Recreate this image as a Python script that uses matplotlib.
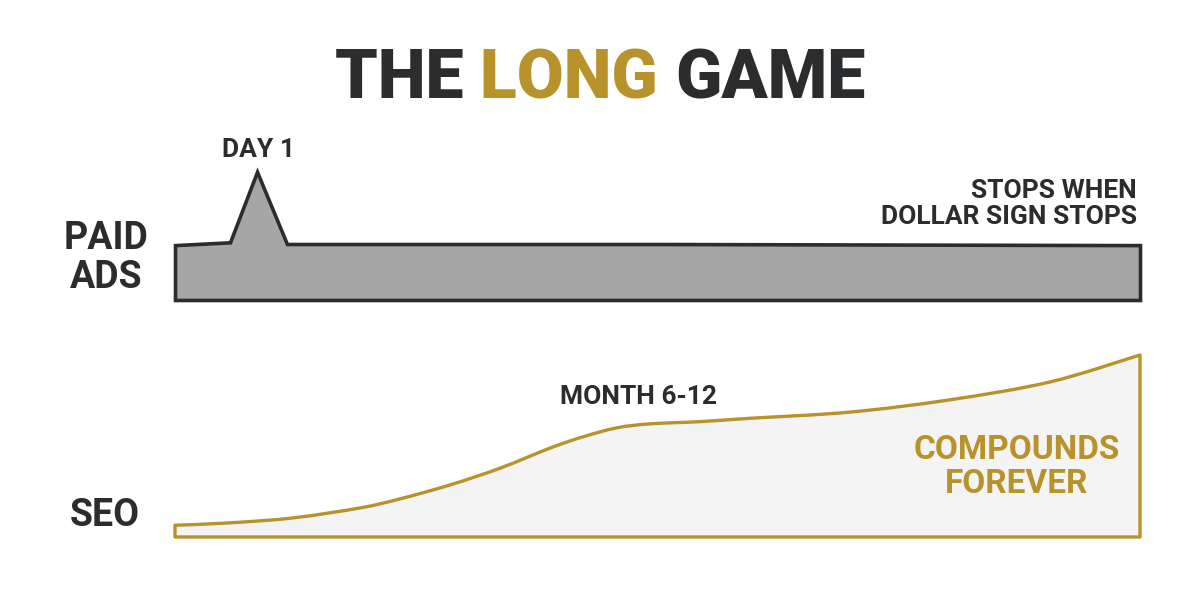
import matplotlib.pyplot as plt
from matplotlib.path import Path
from matplotlib.patches import PathPatch

plt.rcParams["font.family"] = ["Roboto", "DejaVu Sans"]

dark = "#2a2c2e"
gold = "#b8922a"

# paid ads: flat spend level with a spike on day 1 (time axis 0-100)
paid_x = [0, 5.7, 8.5, 11.6, 50, 100]
paid_y = [0.98, 1.03, 2.29, 1.0, 1.0, 0.98]

# seo: slow start, climbs around month 6-12, keeps compounding
seo_x = [0, 5.4, 12.2, 19.2, 23.3, 28.5, 33.7, 38.9, 42.3, 45.8, 49.2, 54.4,
         59.6, 69.9, 80.3, 90.7, 100]
seo_y = [0.21, 0.25, 0.34, 0.52, 0.68, 0.93, 1.23, 1.59, 1.79, 1.95, 2.02,
         2.06, 2.12, 2.23, 2.45, 2.77, 3.25]

fig = plt.figure(figsize=(12, 6), dpi=100)
fig.patch.set_facecolor("white")

ax_paid = fig.add_axes([175 / 1200, 0.5, 965 / 1200, 2.6 * 56 / 600])
ax_seo = fig.add_axes([175 / 1200, 63 / 600, 965 / 1200, 3.5 * 56 / 600])

ax_paid.fill_between(paid_x, 0, paid_y, facecolor="#a6a6a6", edgecolor=dark,
                     linewidth=2.6, joinstyle="miter", clip_on=False)
ax_paid.set_xlim(0, 100)
ax_paid.set_ylim(0, 2.6)


# smooth curve through the seo points (catmull-rom as bezier segments)
def smooth_area(xs, ys):
    pts = list(zip(xs, ys))
    verts = [(xs[0], 0), pts[0]]
    codes = [Path.MOVETO, Path.LINETO]
    n = len(pts)
    for i in range(n - 1):
        p0 = pts[max(i - 1, 0)]
        p1 = pts[i]
        p2 = pts[i + 1]
        p3 = pts[min(i + 2, n - 1)]
        c1 = (p1[0] + (p2[0] - p0[0]) / 6, p1[1] + (p2[1] - p0[1]) / 6)
        c2 = (p2[0] - (p3[0] - p1[0]) / 6, p2[1] - (p3[1] - p1[1]) / 6)
        verts += [c1, c2, p2]
        codes += [Path.CURVE4] * 3
    verts += [(xs[-1], 0), (xs[0], 0)]
    codes += [Path.LINETO, Path.CLOSEPOLY]
    return Path(verts, codes)


seo_patch = PathPatch(smooth_area(seo_x, seo_y), facecolor="#f4f4f4",
                      edgecolor=gold, linewidth=2.4, joinstyle="round",
                      clip_on=False)
ax_seo.add_patch(seo_patch)
ax_seo.set_xlim(0, 100)
ax_seo.set_ylim(0, 3.5)

for ax in (ax_paid, ax_seo):
    ax.axis("off")


def px(x, y):
    return x / 1200, 1 - y / 600


# title in three colours
fig.canvas.draw()
renderer = fig.canvas.get_renderer()
parts = [("THE ", dark), ("LONG ", gold), ("GAME", dark)]
texts = []
for s, c in parts:
    t = fig.text(0, 0, s, fontsize=49, fontweight="black", color=c,
                 va="center", ha="left")
    texts.append(t)
widths = [t.get_window_extent(renderer).width for t in texts]
x0 = 600 - sum(widths) / 2
for t, w in zip(texts, widths):
    t.set_position(px(x0, 80))
    x0 += w

fig.text(*px(106, 258), "PAID\nADS", fontsize=27, fontweight="bold", color=dark,
         ha="center", va="center", linespacing=1.05)
fig.text(*px(105, 516), "SEO", fontsize=27, fontweight="bold", color=dark,
         ha="center", va="center")
fig.text(*px(259, 150), "DAY 1", fontsize=19, fontweight="bold", color=dark,
         ha="center", va="center")
fig.text(*px(1137, 204), "STOPS WHEN\nDOLLAR SIGN STOPS", fontsize=19,
         fontweight="bold", color=dark, ha="right", va="center",
         multialignment="right", linespacing=1.15)
fig.text(*px(639, 397), "MONTH 6-12", fontsize=19, fontweight="bold",
         color=dark, ha="center", va="center")
fig.text(*px(1017, 467), "COMPOUNDS\nFOREVER", fontsize=24, fontweight="bold",
         color=gold, ha="center", va="center", linespacing=1.1)

fig.savefig("out.png", dpi=100, facecolor="white")
